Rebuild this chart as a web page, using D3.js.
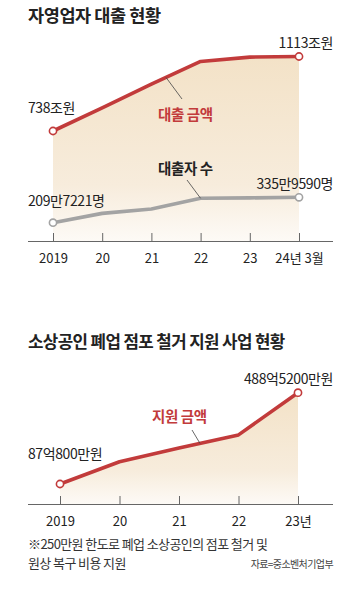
<!DOCTYPE html>
<html><head><meta charset="utf-8">
<script src="https://cdn.jsdelivr.net/npm/d3@7"></script>
<style>
html,body{margin:0;padding:0;background:#fff;}
svg{display:block;}
.num{font-family:'Liberation Sans Narrow','Noto Sans CJK KR',sans-serif;}
.kr{font-family:'Noto Sans CJK KR',sans-serif;}
</style></head>
<body>
<svg id="c" width="360" height="591"></svg>
<script>
const years1 = ["2019","20","21","22","23","24년 3월"];
const loanAmount = [738, 854, 974, 1088, 1110, 1113];          // 조원
const borrowers = [209.7221, 256, 278, 331, 333, 335.959];      // 만명
const years2 = ["2019","20","21","22","23년"];
const supportAmount = [87.08, 185, 245, 303, 488.52];           // 억원
const loanLabels = ["738조원","1113조원"];
const borrowerLabels = ["209만7221명","335만9590명"];
const supportLabels = ["87억800만원","488억5200만원"];

const svg = d3.select("#c");
const RED = "#c23b3b", GRAY = "#a3a3a3", DARK = "#222";
const defs = svg.append("defs");
function grad(id, y1, y2){
  const g = defs.append("linearGradient").attr("id", id)
    .attr("gradientUnits","userSpaceOnUse").attr("x1",0).attr("x2",0).attr("y1",y1).attr("y2",y2);
  g.append("stop").attr("offset","0%").attr("stop-color","#f3e2c7");
  g.append("stop").attr("offset","70%").attr("stop-color","#f7ecdc");
  g.append("stop").attr("offset","100%").attr("stop-color","#fdfaf6");
}
grad("g1", 56, 241);
grad("g2", 392, 504);

// ---------- Chart 1 ----------
svg.append("text").attr("class","kr").attr("x",28).attr("y",22)
  .attr("font-size",17.5).attr("font-weight",700).attr("fill",DARK).attr("letter-spacing",-0.4)
  .text("자영업자 대출 현황");

const x1 = d3.scalePoint().domain(years1).range([53, 299]);
const yLoan = d3.scaleLinear().domain([738, 1113]).range([131, 56.5]);
const yCnt = d3.scaleLinear().domain([209.7221, 335.959]).range([222.7, 197.3]);
const axisY1 = 241;

const d1 = years1.map((y,i)=>({y, v: loanAmount[i], c: borrowers[i]}));
svg.append("path").datum(d1)
  .attr("d", d3.area().x(d=>x1(d.y)).y0(axisY1).y1(d=>yLoan(d.v)))
  .attr("fill","url(#g1)");

// axis
const ax1 = svg.append("g").attr("transform",`translate(0,${axisY1})`)
  .call(d3.axisBottom(x1).tickSizeInner(-8).tickSizeOuter(0).tickPadding(11));
ax1.select(".domain").attr("d","M28,0.5H333").attr("stroke","#666");
ax1.selectAll(".tick line").attr("stroke","#666").attr("y2",-8).attr("y1",1);
ax1.selectAll(".tick text").attr("class","num").attr("font-size",13).attr("fill",DARK).attr("y",13);

// lines
svg.append("path").datum(d1)
  .attr("d", d3.line().x(d=>x1(d.y)).y(d=>yCnt(d.c)))
  .attr("fill","none").attr("stroke",GRAY).attr("stroke-width",3.6).attr("stroke-linejoin","round");
svg.append("path").datum(d1)
  .attr("d", d3.line().x(d=>x1(d.y)).y(d=>yLoan(d.v)))
  .attr("fill","none").attr("stroke",RED).attr("stroke-width",3.6).attr("stroke-linejoin","round");

[0, d1.length-1].forEach(i=>{
  svg.append("circle").attr("cx",x1(d1[i].y)).attr("cy",yLoan(d1[i].v)).attr("r",3.6)
    .attr("fill","#fff").attr("stroke",RED).attr("stroke-width",1.6);
  svg.append("circle").attr("cx",x1(d1[i].y)).attr("cy",yCnt(d1[i].c)).attr("r",3.6)
    .attr("fill","#fff").attr("stroke",GRAY).attr("stroke-width",1.6);
});

// labels chart 1
svg.append("text").attr("class","num").attr("x",28).attr("y",yLoan(loanAmount[0])-18)
  .attr("font-size",14).attr("fill",DARK).attr("letter-spacing",-0.4).text(loanLabels[0]);
svg.append("text").attr("class","num").attr("x",333).attr("y",yLoan(loanAmount[5])-9).attr("text-anchor","end")
  .attr("font-size",14).attr("fill",DARK).attr("letter-spacing",-0.4).text(loanLabels[1]);
svg.append("text").attr("class","num").attr("x",28).attr("y",yCnt(borrowers[0])-17)
  .attr("font-size",14).attr("fill",DARK).attr("letter-spacing",-0.4).text(borrowerLabels[0]);
svg.append("text").attr("class","num").attr("x",333).attr("y",yCnt(borrowers[5])-8).attr("text-anchor","end")
  .attr("font-size",14).attr("fill",DARK).attr("letter-spacing",-0.4).text(borrowerLabels[1]);

// series name labels
svg.append("line").attr("x1",166).attr("y1",yLoan(loanAmount[2]) + (yLoan(loanAmount[3])-yLoan(loanAmount[2]))*((166-x1("21"))/(x1("22")-x1("21"))))
  .attr("x2",182).attr("y2",99).attr("stroke","#444").attr("stroke-width",0.8);
svg.append("text").attr("class","kr").attr("x",158).attr("y",120)
  .attr("font-size",14.5).attr("font-weight",700).attr("fill",RED).attr("letter-spacing",-0.4).text("대출 금액");
svg.append("line").attr("x1",187).attr("y1",180).attr("x2",x1("22")).attr("y2",yCnt(borrowers[3]))
  .attr("stroke","#444").attr("stroke-width",0.8);
svg.append("text").attr("class","kr").attr("x",158).attr("y",174)
  .attr("font-size",14.5).attr("font-weight",700).attr("fill",DARK).attr("letter-spacing",-0.4).text("대출자 수");

// ---------- Chart 2 ----------
svg.append("text").attr("class","kr").attr("x",28).attr("y",348)
  .attr("font-size",16.8).attr("font-weight",700).attr("fill",DARK).attr("letter-spacing",-0.6)
  .text("소상공인 폐업 점포 철거 지원 사업 현황");

const x2 = d3.scalePoint().domain(years2).range([60, 298]);
const ySup = d3.scaleLinear().domain([87.08, 488.52]).range([484, 392.7]);
const axisY2 = 504;
const d2 = years2.map((y,i)=>({y, v: supportAmount[i]}));

svg.append("path").datum(d2)
  .attr("d", d3.area().x(d=>x2(d.y)).y0(axisY2).y1(d=>ySup(d.v)))
  .attr("fill","url(#g2)");

const ax2 = svg.append("g").attr("transform",`translate(0,${axisY2})`)
  .call(d3.axisBottom(x2).tickSizeInner(-8).tickSizeOuter(0).tickPadding(11));
ax2.select(".domain").attr("d","M28,0.5H333").attr("stroke","#666");
ax2.selectAll(".tick line").attr("stroke","#666").attr("y2",-8).attr("y1",1);
ax2.selectAll(".tick text").attr("class","num").attr("font-size",13).attr("fill",DARK).attr("y",13);

svg.append("path").datum(d2)
  .attr("d", d3.line().x(d=>x2(d.y)).y(d=>ySup(d.v)))
  .attr("fill","none").attr("stroke",RED).attr("stroke-width",3.6).attr("stroke-linejoin","round");
[0, d2.length-1].forEach(i=>{
  svg.append("circle").attr("cx",x2(d2[i].y)).attr("cy",ySup(d2[i].v)).attr("r",3.6)
    .attr("fill","#fff").attr("stroke",RED).attr("stroke-width",1.6);
});

svg.append("text").attr("class","num").attr("x",28).attr("y",459)
  .attr("font-size",14).attr("fill",DARK).attr("letter-spacing",-0.4).text(supportLabels[0]);
svg.append("text").attr("class","num").attr("x",333).attr("y",ySup(supportAmount[4])-9).attr("text-anchor","end")
  .attr("font-size",14).attr("fill",DARK).attr("letter-spacing",-0.4).text(supportLabels[1]);

const tx = 200;
const tY = ySup(supportAmount[2]) + (ySup(supportAmount[3])-ySup(supportAmount[2]))*((tx-x2("21"))/(x2("22")-x2("21")));
svg.append("line").attr("x1",192).attr("y1",430).attr("x2",tx).attr("y2",tY)
  .attr("stroke","#444").attr("stroke-width",0.8);
svg.append("text").attr("class","kr").attr("x",152).attr("y",422)
  .attr("font-size",14.5).attr("font-weight",700).attr("fill",RED).attr("letter-spacing",-0.4).text("지원 금액");

// footnotes
svg.append("text").attr("class","kr").attr("x",28).attr("y",549)
  .attr("font-size",13).attr("fill","#333").attr("letter-spacing",-0.6).text("※250만원 한도로 폐업 소상공인의 점포 철거 및");
svg.append("text").attr("class","kr").attr("x",28).attr("y",568)
  .attr("font-size",13).attr("fill","#333").attr("letter-spacing",-0.6).text("원상 복구 비용 지원");
svg.append("text").attr("class","kr").attr("x",333).attr("y",568).attr("text-anchor","end")
  .attr("font-size",10).attr("fill","#444").attr("letter-spacing",-0.6).text("자료=중소벤처기업부");
</script>
</body></html>
